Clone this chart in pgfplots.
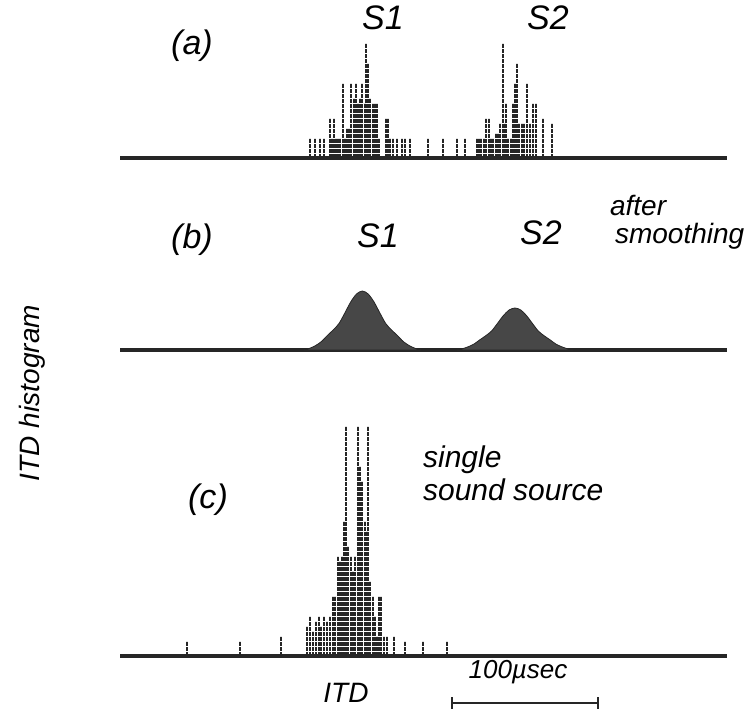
\documentclass[border=0pt]{standalone}
\usepackage{fontspec}
\setmainfont{Liberation Sans}
\usepackage{pgfplots}
\pgfplotsset{compat=1.18}

% label fonts
\newcommand\lbl[1]{\fontsize{#1}{#1}\selectfont\itshape}
\newcommand\spaced[1]{\addfontfeature{LetterSpace=#1}}

\pgfplotsset{
  itdpanel/.style={
    anchor=south west,
    x=0.73pt, y=2.5pt,
    xmin=-163, xmax=253, ymin=0,
    axis x line*=bottom, axis y line=none,
    xtick=\empty, ytick=\empty,
    axis line style={line width=1.6pt, black!85},
    clip=false,
  },
  hist/.style={ycomb, no marks, draw=black!85, line width=1pt,
    dash pattern=on 2.1pt off 0.4pt},
}

\begin{document}
\begin{tikzpicture}[x=0.5pt, y=-0.5pt]
\path[use as bounding box] (0,0) rectangle (751,712);

% (a) raw ITD histogram, two sources
\begin{axis}[itdpanel, at={(60pt,-79pt)}, ymax=28]
\addplot[hist] coordinates {
  (-33,4) (-29.5,4) (-26,4) (-23,4)
  (-19.5,8) (-18,4) (-16.5,8) (-15,4) (-13.5,4) (-12,4) (-10.5,15) (-9,4)
  (-7.5,6) (-6,6) (-4.5,15) (-3,12) (-1.5,15) (0,11) (1.5,12) (3,15)
  (4.5,11) (5.5,23) (7,19) (8.5,12) (10,11) (11.5,11) (13,11) (14.5,4)
  (19,8) (20.5,8) (22,4) (24,4) (27,4) (30,4) (32,4) (35.5,4)
  (48,4) (58,4) (68,4) (73,4)
};
\addplot[hist] coordinates {
  (81.5,4) (83,4) (84.5,4) (86,4) (88,8) (89.5,8) (91,4) (92.5,4)
  (94.5,5) (96,5) (97.5,7) (99,23) (100.5,7) (101.5,11) (103,4) (104.5,4)
  (106,11) (107.5,15) (109,19) (110.5,7) (112,7) (113.5,7) (116,15)
  (118,7) (120,11) (122,11) (127,8) (133,7)
};
\end{axis}

% (b) after smoothing
\begin{axis}[itdpanel, at={(60pt,-175pt)}, ymax=14]
\addplot[fill=black!72, draw=black!85, smooth] coordinates {
  (-37,0) (-33,0.35) (-29,0.9) (-25,1.7) (-21,2.9) (-17,4.0) (-13,5.3)
  (-9,7.4) (-5,9.6) (-1,11.2) (3,11.8) (7,11.2) (11,9.6) (15,7.4)
  (19,5.3) (23,4.0) (27,2.9) (31,1.7) (35,0.9) (39,0.35) (43,0)
} \closedcycle;
\addplot[fill=black!72, draw=black!85, smooth] coordinates {
  (67.5,0) (71.5,0.25) (75.5,0.65) (79.5,1.2) (83.5,2.05) (87.5,2.85)
  (91.5,3.8) (95.5,5.3) (99.5,6.85) (103.5,8.0) (107.5,8.4) (111.5,8.0)
  (115.5,6.85) (119.5,5.3) (123.5,3.8) (127.5,2.85) (131.5,2.05)
  (135.5,1.2) (139.5,0.65) (143.5,0.25) (147.5,0)
} \closedcycle;
\end{axis}

% (c) single sound source
\begin{axis}[itdpanel, at={(60pt,-328pt)}, ymax=50]
\addplot[hist] coordinates {
  (-117,3) (-81,3) (-53,4)
  (-35,6) (-33,8) (-31,5) (-29,7) (-27,8) (-25,6) (-23,8) (-21,7) (-19,8)
  (-17,12) (-15.5,12) (-14,20) (-12.5,19) (-11,20) (-9.5,27) (-8,46)
  (-6.5,22) (-5,20) (-3.5,17) (-2,20) (0,46) (1.5,38) (3,35) (4.5,27)
  (6,25) (7,46) (8.5,15) (10,12) (11.5,8) (13,4) (14.5,12) (16,12)
  (17.5,4) (20,4) (25,4) (32,3) (44.5,3) (61,3)
};
\end{axis}

% labels
\node at (192,46) {\lbl{17}\spaced{0.25}(a)};
\node at (383,18) {\lbl{17}S1};
\node at (548,18) {\lbl{17}S2};
\node at (192,240) {\lbl{17}\spaced{0.25}(b)};
\node at (378,236) {\lbl{17}S1};
\node at (541,233) {\lbl{17}S2};
\node[anchor=west] at (603,205) {\lbl{14}after};
\node[anchor=west] at (608,236) {\lbl{14}smoothing};
\node at (208,500) {\lbl{17}\spaced{0.25}(c)};
\node[anchor=west] at (416,460) {\lbl{15}\spaced{0.08}single};
\node[anchor=west] at (416,490) {\lbl{15}\spaced{0.08}sound source};
\node[rotate=90] at (32,393) {\lbl{14}\spaced{0.15}ITD histogram};
\node at (346,693) {\lbl{14}ITD};
\node at (518,672) {\lbl{13}100µsec};
\draw[line width=1.2pt, black!85] (452,703) -- (598,703);
\draw[line width=1.2pt, black!85] (452,697) -- (452,709);
\draw[line width=1.2pt, black!85] (598,697) -- (598,709);
\end{tikzpicture}
\end{document}
